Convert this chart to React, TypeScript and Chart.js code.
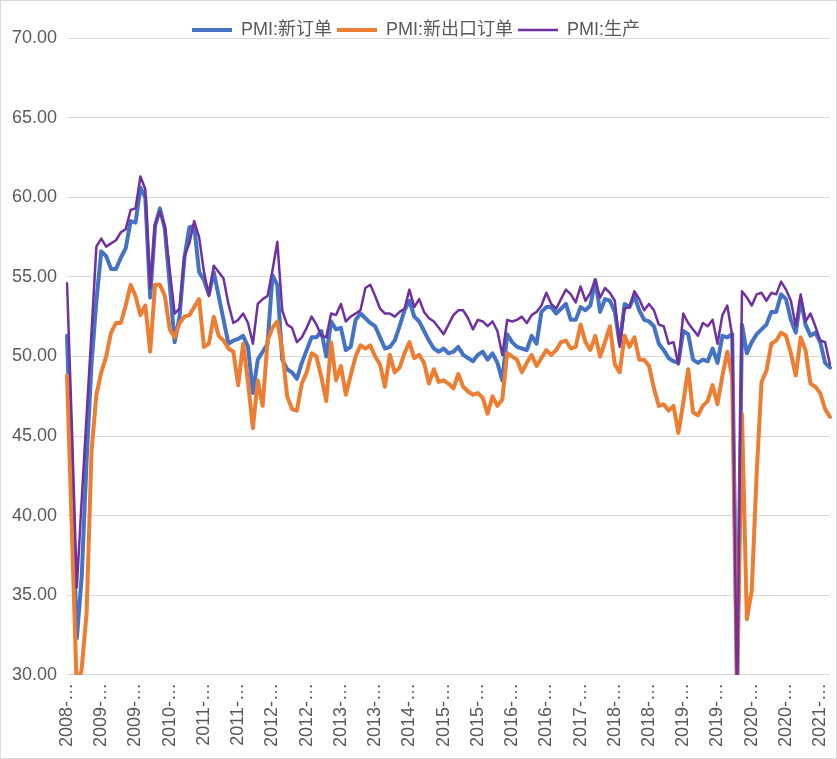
import React, { useEffect, useRef } from "react";
import { Chart, registerables } from "chart.js";

Chart.register(...registerables);

const categories: string[] = [
  "2008-09", "2008-10", "2008-11", "2008-12",
  "2009-01", "2009-02", "2009-03", "2009-04", "2009-05", "2009-06", "2009-07", "2009-08", "2009-09", "2009-10", "2009-11", "2009-12",
  "2010-01", "2010-02", "2010-03", "2010-04", "2010-05", "2010-06", "2010-07", "2010-08", "2010-09", "2010-10", "2010-11", "2010-12",
  "2011-01", "2011-02", "2011-03", "2011-04", "2011-05", "2011-06", "2011-07", "2011-08", "2011-09", "2011-10", "2011-11", "2011-12",
  "2012-01", "2012-02", "2012-03", "2012-04", "2012-05", "2012-06", "2012-07", "2012-08", "2012-09", "2012-10", "2012-11", "2012-12",
  "2013-01", "2013-02", "2013-03", "2013-04", "2013-05", "2013-06", "2013-07", "2013-08", "2013-09", "2013-10", "2013-11", "2013-12",
  "2014-01", "2014-02", "2014-03", "2014-04", "2014-05", "2014-06", "2014-07", "2014-08", "2014-09", "2014-10", "2014-11", "2014-12",
  "2015-01", "2015-02", "2015-03", "2015-04", "2015-05", "2015-06", "2015-07", "2015-08", "2015-09", "2015-10", "2015-11", "2015-12",
  "2016-01", "2016-02", "2016-03", "2016-04", "2016-05", "2016-06", "2016-07", "2016-08", "2016-09", "2016-10", "2016-11", "2016-12",
  "2017-01", "2017-02", "2017-03", "2017-04", "2017-05", "2017-06", "2017-07", "2017-08", "2017-09", "2017-10", "2017-11", "2017-12",
  "2018-01", "2018-02", "2018-03", "2018-04", "2018-05", "2018-06", "2018-07", "2018-08", "2018-09", "2018-10", "2018-11", "2018-12",
  "2019-01", "2019-02", "2019-03", "2019-04", "2019-05", "2019-06", "2019-07", "2019-08", "2019-09", "2019-10", "2019-11", "2019-12",
  "2020-01", "2020-02", "2020-03", "2020-04", "2020-05", "2020-06", "2020-07", "2020-08", "2020-09", "2020-10", "2020-11", "2020-12",
  "2021-01", "2021-02", "2021-03", "2021-04", "2021-05", "2021-06", "2021-07", "2021-08", "2021-09",
];

const newOrders: number[] = [
  51.3, 41.5, 32.3, 36.2,
  43.5, 49.5, 53.5, 56.6, 56.3, 55.5, 55.5, 56.2, 56.8, 58.5, 58.4, 60.6,
  60.0, 53.7, 58.2, 59.3, 58.0, 54.5, 50.9, 52.5, 56.2, 58.1, 58.2, 55.3,
  54.8, 53.9, 55.3, 53.8, 52.3, 50.8, 51.0, 51.1, 51.3, 50.6, 47.7, 49.8,
  50.3, 50.8, 55.1, 54.5, 49.8, 49.2, 49.0, 48.6, 49.6, 50.4, 51.2, 51.2,
  51.6, 50.0, 52.2, 51.7, 51.8, 50.4, 50.6, 52.3, 52.7, 52.4, 52.1, 51.9,
  51.2, 50.5, 50.6, 51.0, 51.9, 52.9, 53.5, 52.5, 52.2, 51.6, 51.0, 50.5,
  50.3, 50.5, 50.2, 50.3, 50.6, 50.1, 49.9, 49.7, 50.1, 50.3, 49.8, 50.2,
  49.6, 48.5, 51.4, 50.9, 50.6, 50.5, 50.4, 51.3, 50.8, 52.8, 53.1, 53.1,
  52.7, 53.0, 53.3, 52.3, 52.3, 53.1, 52.9, 53.2, 54.8, 52.8, 53.6, 53.5,
  52.8, 50.8, 53.3, 53.1, 53.8, 52.9, 52.3, 52.2, 51.9, 50.8, 50.4, 49.9,
  49.7, 49.6, 51.6, 51.4, 49.8, 49.6, 49.8, 49.7, 50.5, 49.6, 51.3, 51.2,
  51.4, 29.3, 52.0, 50.2, 50.9, 51.4, 51.7, 52.0, 52.8, 52.8, 53.9, 53.6,
  52.3, 51.5, 53.6, 52.0, 51.3, 51.5, 50.9, 49.6, 49.3,
];

const newExportOrders: number[] = [
  48.8, 39.0, 29.0, 30.4,
  33.9, 44.0, 47.6, 49.0, 50.0, 51.5, 52.1, 52.1, 53.2, 54.5, 53.8, 52.6,
  53.2, 50.3, 54.5, 54.5, 53.8, 51.7, 51.2, 52.1, 52.5, 52.6, 53.1, 53.6,
  50.6, 50.8, 52.5, 51.3, 51.0, 50.5, 50.3, 48.2, 50.8, 48.4, 45.5, 48.5,
  46.9, 51.0, 51.8, 52.2, 50.4, 47.5, 46.7, 46.6, 48.3, 49.0, 50.2, 50.0,
  48.7, 47.2, 50.9, 48.5, 49.4, 47.6, 48.8, 50.0, 50.7, 50.5, 50.7, 50.0,
  49.5, 48.1, 50.1, 49.0, 49.3, 50.2, 50.9, 49.9, 50.1, 49.6, 48.3, 49.2,
  48.4, 48.5, 48.3, 48.0, 48.9, 48.1, 47.8, 47.6, 47.7, 47.4, 46.4, 47.5,
  46.9, 47.3, 50.2, 50.0, 49.8, 49.0, 49.6, 50.1, 49.4, 49.9, 50.4, 50.1,
  50.4, 50.9, 51.0, 50.5, 50.6, 52.0, 50.9, 50.4, 51.3, 50.0, 50.9, 51.9,
  49.5, 49.0, 51.3, 50.6, 51.2, 49.8, 49.8, 49.4, 48.0, 46.9, 47.0, 46.6,
  46.9, 45.2, 47.1, 49.2, 46.5, 46.3, 46.9, 47.2, 48.2, 47.0, 48.8, 50.3,
  48.7, 28.7, 46.4, 33.5, 35.3, 42.6, 48.4, 49.1, 50.8, 51.0, 51.5, 51.3,
  50.2, 48.8, 51.2, 50.4, 48.3, 48.1, 47.7, 46.7, 46.2,
];

const production: number[] = [
  54.6, 45.5, 35.5, 41.0,
  46.3, 51.5, 56.9, 57.4, 56.9, 57.1, 57.3, 57.8, 58.0, 59.2, 59.3, 61.3,
  60.5, 54.3, 58.3, 59.1, 58.2, 55.4, 52.7, 53.0, 56.3, 57.1, 58.5, 57.5,
  55.3, 53.8, 55.7, 55.3, 54.9, 53.3, 52.1, 52.3, 52.7, 52.1, 50.8, 53.3,
  53.6, 53.8, 55.4, 57.2, 52.9, 52.0, 51.8, 50.9, 51.2, 51.8, 52.5, 52.0,
  51.3, 51.2, 52.7, 52.6, 53.3, 52.2, 52.5, 52.7, 52.9, 54.3, 54.5, 53.8,
  53.0, 52.7, 52.7, 52.5, 52.8, 53.0, 54.2, 53.1, 53.6, 52.8, 52.4, 52.2,
  51.8, 51.4, 52.0, 52.6, 52.9, 52.9, 52.4, 51.7, 52.3, 52.2, 51.9, 52.2,
  51.6, 50.1, 52.3, 52.2, 52.3, 52.5, 52.1, 52.6, 52.8, 53.2, 54.0, 53.3,
  53.0, 53.6, 54.2, 53.9, 53.4, 54.4, 53.5, 54.0, 54.8, 53.7, 54.3, 54.0,
  53.5, 50.6, 53.0, 53.1, 54.1, 53.6, 52.9, 53.3, 52.9, 52.0, 51.9, 50.8,
  50.9, 49.5, 52.7, 52.1, 51.7, 51.3, 52.1, 51.9, 52.3, 50.8, 52.6, 53.2,
  51.3, 27.8, 54.1, 53.7, 53.2, 53.9, 54.0, 53.5, 54.0, 53.9, 54.7, 54.2,
  53.5, 51.9, 53.9, 52.2, 52.7, 51.9, 51.0, 50.9, 49.5,
];

const seriesNames = ["PMI:新订单", "PMI:新出口订单", "PMI:生产"];
const seriesColors = ["#4472C4", "#ED7D31", "#7030A0"];
const yMin = 30;
const yMax = 70;
const yStep = 5;
const labelEvery = 7;

const FONT = "'Liberation Sans', Arial, 'Noto Sans CJK SC', sans-serif";
const TEXT = "#595959";

export default function App() {
  const ref = useRef<HTMLCanvasElement>(null);

  useEffect(() => {
    document.body.style.margin = "0";
    const canvas = ref.current;
    if (!canvas) return;
    const chart = new Chart(canvas, {
      type: "line",
      data: {
        labels: categories,
        datasets: [
          {
            label: seriesNames[0],
            data: newOrders,
            borderColor: seriesColors[0],
            backgroundColor: seriesColors[0],
            borderWidth: 4,
            order: 3,
          },
          {
            label: seriesNames[1],
            data: newExportOrders,
            borderColor: seriesColors[1],
            backgroundColor: seriesColors[1],
            borderWidth: 4,
            order: 2,
          },
          {
            label: seriesNames[2],
            data: production,
            borderColor: seriesColors[2],
            backgroundColor: seriesColors[2],
            borderWidth: 2.5,
            order: 1,
          },
        ],
      },
      options: {
        animation: false,
        responsive: false,
        devicePixelRatio: 1,
        elements: {
          point: { radius: 0, hoverRadius: 0 },
          line: { tension: 0, borderJoinStyle: "round", borderCapStyle: "round" },
        },
        layout: { padding: { top: 15, left: 1, right: 6, bottom: 3 } },
        plugins: {
          legend: {
            position: "top",
            maxHeight: 22,
            labels: {
              usePointStyle: true,
              pointStyle: "line",
              pointStyleWidth: 40,
              padding: 5,
              color: TEXT,
              font: { size: 18, family: FONT },
              sort: (a: any, b: any) => a.datasetIndex - b.datasetIndex,
            },
          },
          tooltip: { enabled: false },
        },
        scales: {
          x: {
            grid: { display: false, drawTicks: false },
            border: { display: false },
            ticks: {
              autoSkip: false,
              maxRotation: 90,
              minRotation: 90,
              padding: 8,
              color: TEXT,
              font: { size: 18, family: FONT },
              callback: (_v: any, i: number) =>
                i % labelEvery === 0 ? categories[i].slice(0, 4) + "-…" : null,
            },
            afterFit: (scale: any) => {
              scale.paddingLeft = 0;
              scale.paddingRight = 0;
            },
          },
          y: {
            min: yMin,
            max: yMax,
            grid: { color: "#d9d9d9", lineWidth: 1, drawTicks: false },
            border: { display: false },
            ticks: {
              stepSize: yStep,
              padding: 10,
              color: TEXT,
              font: { size: 18, family: FONT },
              callback: (v: any) => Number(v).toFixed(2),
            },
          },
        },
      },
    });
    return () => chart.destroy();
  }, []);

  return (
    <div
      style={{
        position: "absolute",
        left: 0,
        top: 0,
        width: 837,
        height: 759,
        border: "1px solid #d9d9d9",
        boxSizing: "border-box",
        background: "#ffffff",
      }}
    >
      <canvas ref={ref} width={835} height={757} style={{ display: "block" }} />
    </div>
  );
}
